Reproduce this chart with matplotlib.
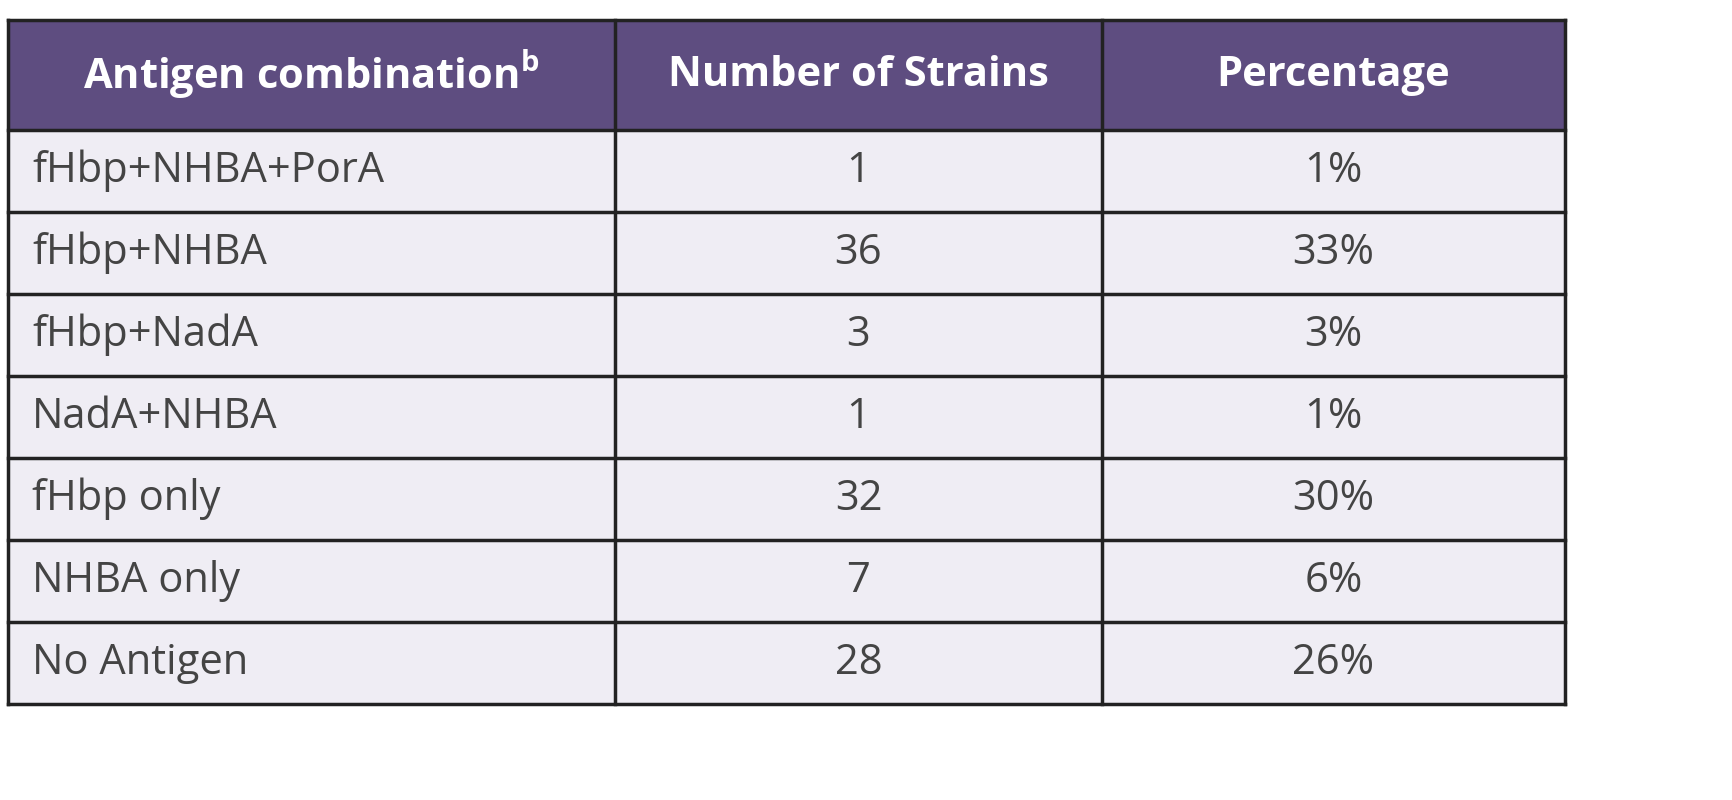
import matplotlib
matplotlib.use("Agg")
import matplotlib.pyplot as plt
from matplotlib.patches import Rectangle

headers = ["Antigen combination$^{\\mathregular{b}}$", "Number of Strains", "Percentage"]
combos = ["fHbp+NHBA+PorA", "fHbp+NHBA", "fHbp+NadA", "NadA+NHBA", "fHbp only", "NHBA only", "No Antigen"]
strains = [1, 36, 3, 1, 32, 7, 28]
percent = ["1%", "33%", "3%", "1%", "30%", "6%", "26%"]

W, H = 1732, 800
fig = plt.figure(figsize=(W/100, H/100), dpi=100)
ax = fig.add_axes([0, 0, 1, 1])
ax.set_xlim(0, W); ax.set_ylim(H, 0); ax.axis("off")

xs = [8, 615, 1102, 1565]
top, hdr_h, row_h = 20, 110, 82
hdr_col = "#5e4d80"; cell_col = "#efedf4"; line = "#222222"; txt = "#444444"
fs = 30

ax.add_patch(Rectangle((xs[0], top), xs[-1]-xs[0], hdr_h, fc=hdr_col, ec="none"))
for i, h in enumerate(headers):
    ax.text((xs[i]+xs[i+1])/2, top+hdr_h/2, h, ha="center", va="center", color="white",
            fontsize=fs, fontweight="bold", family="Open Sans")
y0 = top + hdr_h
ax.add_patch(Rectangle((xs[0], y0), xs[-1]-xs[0], row_h*len(combos), fc=cell_col, ec="none"))
for r, (c, s, p) in enumerate(zip(combos, strains, percent)):
    yc = y0 + r*row_h + row_h/2
    ax.text(xs[0]+24, yc, c, ha="left", va="center", color=txt, fontsize=fs, family="Open Sans")
    ax.text((xs[1]+xs[2])/2, yc, str(s), ha="center", va="center", color=txt, fontsize=fs, family="Open Sans")
    ax.text((xs[2]+xs[3])/2, yc, p, ha="center", va="center", color=txt, fontsize=fs, family="Open Sans")

bottom = y0 + row_h*len(combos)
for x in xs:
    ax.plot([x, x], [top, bottom], color=line, lw=2.5)
ax.plot([xs[0], xs[-1]], [top, top], color=line, lw=2.5)
for r in range(len(combos)+1):
    y = y0 + r*row_h
    ax.plot([xs[0], xs[-1]], [y, y], color=line, lw=2.5)

fig.savefig("out.png", dpi=100, facecolor="white")
